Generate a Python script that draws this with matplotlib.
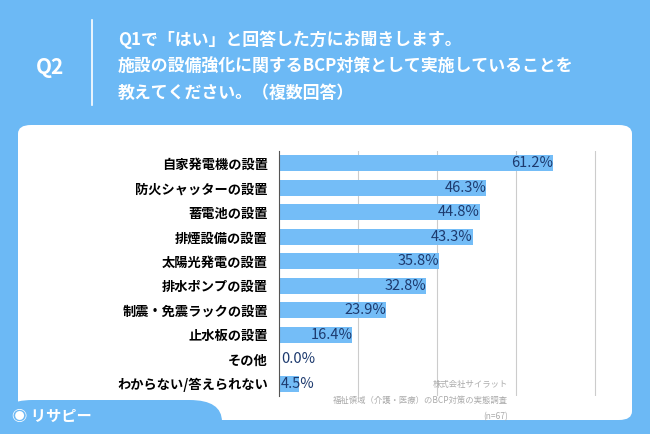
import matplotlib.pyplot as plt
from matplotlib.patches import FancyBboxPatch, Rectangle

plt.rcParams['font.family'] = ['Noto Sans CJK JP', 'DejaVu Sans']

categories = ['自家発電機の設置', '防火シャッターの設置', '蓄電池の設置', '排煙設備の設置',
              '太陽光発電の設置', '排水ポンプの設置', '制震・免震ラックの設置', '止水板の設置',
              'その他', 'わからない/答えられない']
values = [61.2, 46.3, 44.8, 43.3, 35.8, 32.8, 23.9, 16.4, 0.0, 4.5]

W, H = 650, 434
BG = '#6cb9f5'
BAR = '#74bdf7'
fig = plt.figure(figsize=(6.5, 4.34), dpi=100)
fig.patch.set_facecolor(BG)

# white panel
fig.patches.append(FancyBboxPatch((18 / W, 14 / H), 614 / W, 295 / H,
                                  boxstyle='round,pad=0,rounding_size=0.02',
                                  transform=fig.transFigure, fc='white', ec='none', zorder=-2))
fig.patches.append(FancyBboxPatch((0, -0.05), 222 / W, 0.05 + 34 / H,
                                  boxstyle='round,pad=0,rounding_size=0.05',
                                  transform=fig.transFigure, fc=BG, ec='none', zorder=-1))
fig.patches.append(Rectangle((0, 0), 1, 14 / H, transform=fig.transFigure, fc=BG, ec='none', zorder=-1))

# header
fig.text(50 / W, 1 - 67 / H, 'Q2', color='white', fontsize=15, fontweight='bold', ha='center', va='center')
fig.add_artist(plt.Line2D([92 / W, 92 / W], [1 - 20 / H, 1 - 105 / H], color='white', lw=1.2))
title = ['Q1で「はい」と回答した方にお聞きします。',
         '施設の設備強化に関するBCP対策として実施していることを',
         '教えてください。（複数回答）']
for i, t in enumerate(title):
    fig.text(118 / W, 1 - (40 + 26.5 * i) / H, t, color='white', fontsize=12.2,
             fontweight='bold', va='center')

# chart
left, right = 279, 632
scale = 4.48
ax = fig.add_axes([left / W, 1 - 396 / H, (right - left) / W, (396 - 151) / H])
ax.set_facecolor('none')
n = len(categories)
ax.barh(range(n), values, height=0.65, color=BAR)
ax.set_ylim(n - 0.5, -0.5)
ax.set_xlim(0, (right - left) / scale)
ax.set_yticks(range(n))
ax.set_yticklabels(categories, fontsize=9.5, fontweight='bold')
ax.tick_params(axis='y', length=0, pad=8)
ax.set_xticks([79 * k / scale for k in range(1, 5)])
ax.tick_params(axis='x', length=0, labelbottom=False)
ax.grid(axis='x', color='#cccccc', lw=0.8)
ax.set_axisbelow(True)
for s in ['top', 'right', 'bottom']:
    ax.spines[s].set_visible(False)
ax.spines['left'].set_color('#555555')
for i, v in enumerate(values):
    if v < 10:
        ax.text(0.5, i, f'{v:.1f}%', ha='left', va='center', fontsize=10.5, color='#1d3a6e')
    else:
        ax.text(v, i, f'{v:.1f}%', ha='right', va='center', fontsize=10.5, color='#1d3a6e')

# footer
foot = ['株式会社サイラット', '福祉領域（介護・医療）のBCP対策の実態調査', '(n=67)']
for i, t in enumerate(foot):
    fig.text(508 / W, 1 - (384 + 16.5 * i) / H, t, color='#aaaaaa', fontsize=6, ha='right', va='center')
fig.text(12 / W, 1 - 416 / H, '◉ リサピー', color='white', fontsize=11, fontweight='bold', va='center')

fig.savefig('out.png', dpi=100, facecolor=BG)
